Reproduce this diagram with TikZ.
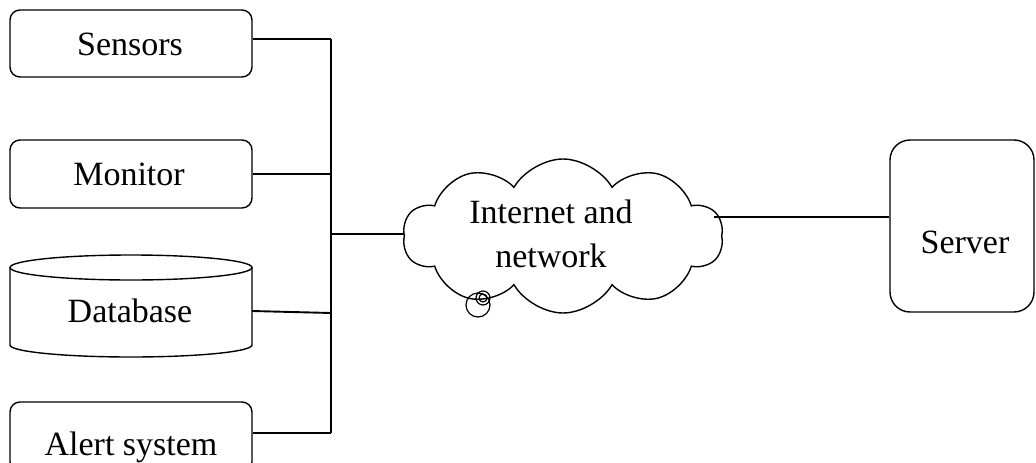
\documentclass[tikz,border=0pt]{standalone}
\usepackage{fontspec}
\setmainfont{Liberation Serif}
\usetikzlibrary{shapes.symbols}
\begin{document}
\begin{tikzpicture}[x=1pt,y=-1pt,
  box/.style={draw, line width=1.4pt, rounded corners=10pt, minimum width=242pt, minimum height=67pt, inner sep=0pt},
  lbl/.style={anchor=base, font=\fontsize{34}{40}\selectfont, inner sep=0pt},
  wire/.style={line width=1.9pt},
  edge/.style={line width=1.4pt}]
\clip (0,0) rectangle (1036,463);
\path[use as bounding box] (0,0) rectangle (1036,463);
% boxes
\node[box] (sens) at (131,43.5) {};
\node[lbl] (tsens) at (130,55) {Sensors};
\node[box, minimum height=68pt] (mon) at (131,174) {};
\node[lbl] (tmon) at (129,185) {Monitor};
\node[inner sep=0pt, minimum width=242pt, minimum height=102pt] (db) at (131,306) {};
\draw[edge] (131,267.5) ellipse [x radius=121pt, y radius=12.5pt];
\draw[edge] (10,267.5) -- (10,345) arc[start angle=180, end angle=360, x radius=121pt, y radius=12pt] -- (252,267.5);
\node[lbl] (tdb) at (130,322) {Database};
\node[box, minimum height=70pt] (alert) at (131,437) {};
\node[lbl] (talert) at (131,455) {Alert system};
\node[box, rounded corners=20pt, minimum width=144pt, minimum height=172pt] (srv) at (962,226) {};
\node[lbl] (tsrv) at (965,253) {Server};
% cloud
\node[cloud, draw, line width=1.4pt, cloud puffs=10, cloud puff arc=120, aspect=2.1, minimum width=320pt, minimum height=154pt, inner sep=0pt] (net) at (563,236) {};
\node[lbl] (tnet1) at (551,223) {Internet and};
\node[lbl] (tnet2) at (551,267) {network};
\draw[line width=1.2pt] (478,305) circle [radius=12pt];
\draw[line width=1.2pt] (483,298) circle [radius=7pt];
\draw[line width=1.2pt] (483,298) circle [radius=4pt];
% connectors
\coordinate (busTop) at (331,39);
\coordinate (busBot) at (331,433);
\coordinate (busMid) at (331,234);
\coordinate (netR) at (714,217);
\draw[wire] (busTop) -- (busBot);
\draw[wire] ([yshift=4.5pt]sens.east) -- (busTop);
\draw[wire] (mon.east) -- (mon.east -| busTop);
\draw[wire] ([yshift=-5pt]db.east) -- ([yshift=-7pt]db.east -| busTop);
\draw[wire] ([yshift=4pt]alert.east) -- (busBot);
\draw[wire] (busMid) -- (busMid -| net.west);
\draw[wire] (netR) -- (netR -| srv.west);
\end{tikzpicture}
\end{document}
